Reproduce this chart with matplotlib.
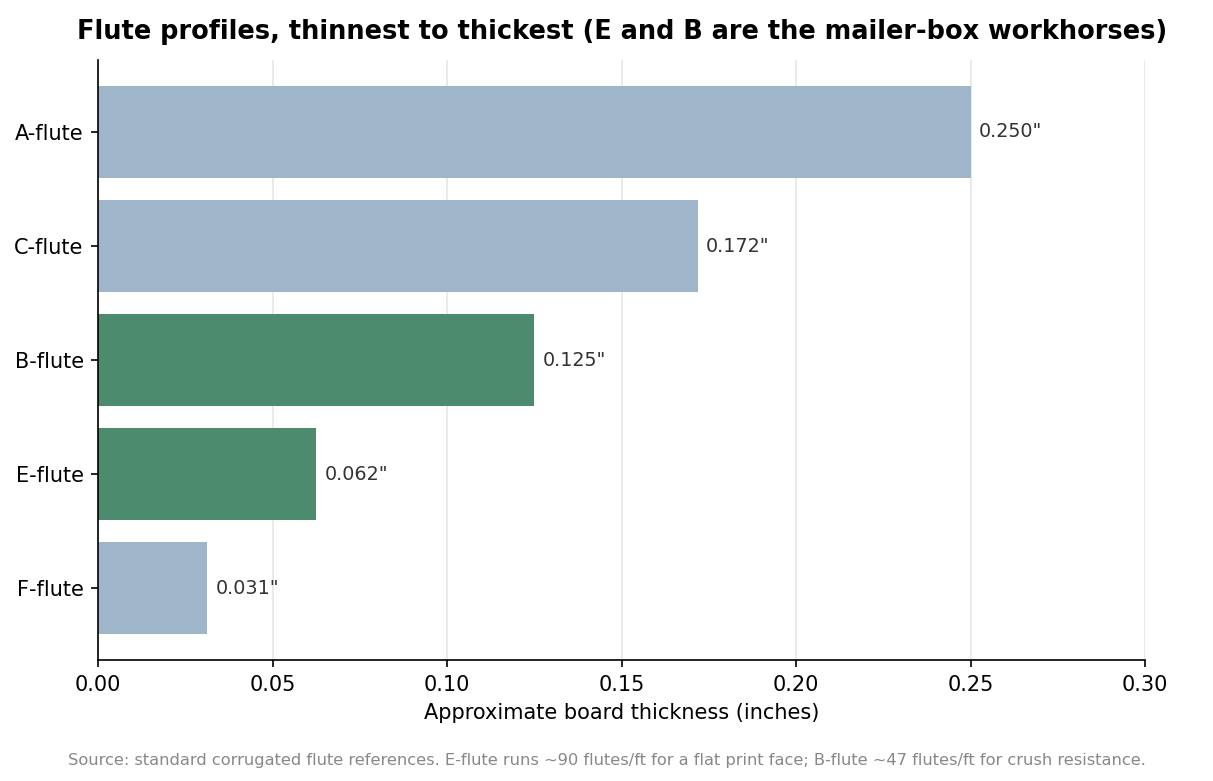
import matplotlib
matplotlib.use("Agg")
import matplotlib.pyplot as plt

flutes = ["F-flute", "E-flute", "B-flute", "C-flute", "A-flute"]
thickness = [0.03125, 0.0625, 0.125, 0.171875, 0.25]
workhorse = [False, True, True, False, False]

blue = "#9fb5c9"
green = "#4c8b6e"

fig, ax = plt.subplots(figsize=(1213 / 150, 781 / 150), dpi=150)
colors = [green if w else blue for w in workhorse]
bars = ax.barh(flutes, thickness, color=colors, height=0.8, zorder=2)

for b, v in zip(bars, thickness):
    ax.text(v + 0.0023, b.get_y() + b.get_height() / 2, f'{v:.3f}"',
            va="center", ha="left", fontsize=9.2, color="#333333")

ax.set_xlim(0, 0.30)
ax.set_ylim(-0.63, 4.63)
ax.set_xticks([0, 0.05, 0.10, 0.15, 0.20, 0.25, 0.30])
ax.set_xticklabels(["0.00", "0.05", "0.10", "0.15", "0.20", "0.25", "0.30"])
ax.tick_params(labelsize=10)
ax.xaxis.grid(True, color="#e6e6e6", zorder=0)
ax.spines["top"].set_visible(False)
ax.spines["right"].set_visible(False)
ax.set_xlabel("Approximate board thickness (inches)", fontsize=10)
ax.set_title("Flute profiles, thinnest to thickest (E and B are the mailer-box workhorses)",
             fontsize=12.3, fontweight="bold", pad=10)

fig.text(0.5, 0.02, "Source: standard corrugated flute references. E-flute runs ~90 flutes/ft "
         "for a flat print face; B-flute ~47 flutes/ft for crush resistance.",
         ha="center", fontsize=7.8, color="#888888")

fig.subplots_adjust(left=0.081, right=0.944, top=0.923, bottom=0.155)
fig.savefig("out.png", dpi=150)
